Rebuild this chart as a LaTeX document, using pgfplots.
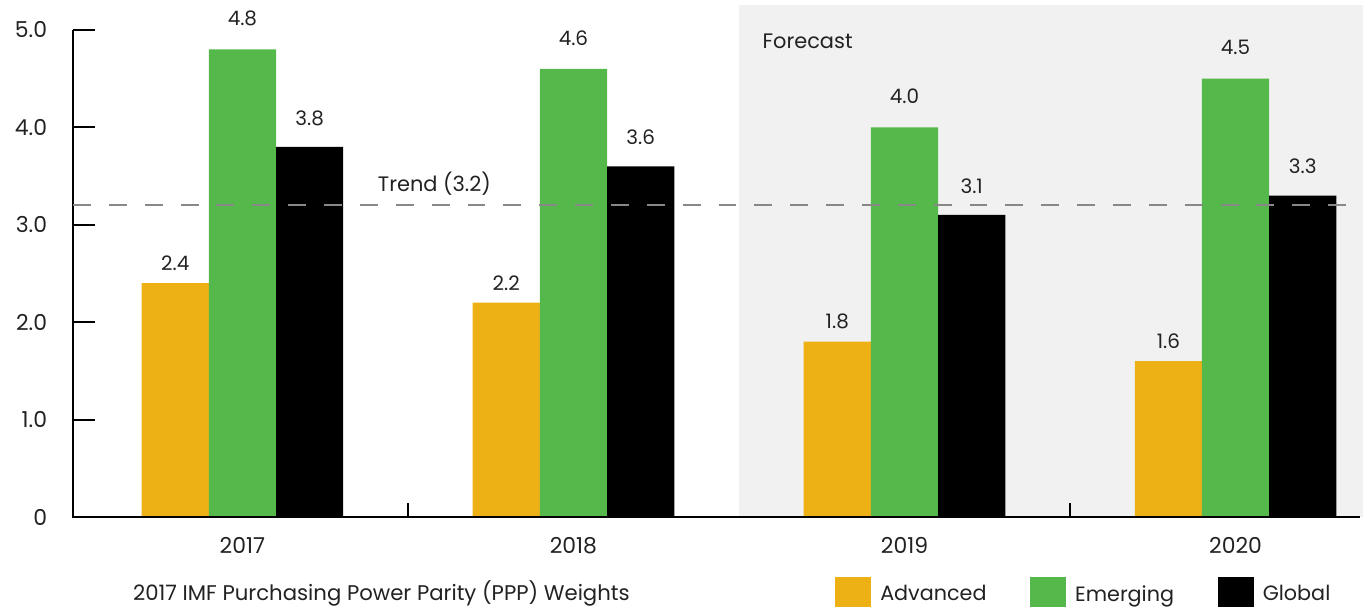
\documentclass[border=0pt]{standalone}
\usepackage{fontspec}
\setmainfont{Poppins}
\usepackage{pgfplots}
\pgfplotsset{compat=1.18}
\definecolor{adv}{HTML}{EEB115}
\definecolor{emg}{HTML}{55B84A}
\definecolor{bgg}{HTML}{F1F1F1}
\definecolor{trend}{HTML}{888888}
\definecolor{txt}{HTML}{222222}
\begin{document}
\pgfkeys{/pgf/number format/.cd,fixed,fixed zerofill,precision=1,assume math mode=true}
\begin{tikzpicture}
\begin{axis}[
  at={(0,0)}, anchor=south west,
  scale only axis, width=647.5pt, height=257pt,
  xmin=-0.5116, xmax=3.385, ymin=0, ymax=5.256,
  axis line style={draw=none},
  xtick={0,1,2,3}, xticklabels={2017,2018,2019,2020},
  x tick style={draw=none},
  ytick={0,1,2,3,4,5}, yticklabels={0,1.0,2.0,3.0,4.0,5.0},
  ytick pos=left, tick align=inside,
  y tick style={black, line width=1pt}, major tick length=11pt,
  ticklabel style={font=\fontsize{11}{13}\selectfont, text=txt},
  yticklabel style={xshift=-9.5pt},
  xticklabel style={yshift=-6.5pt},
  clip=false,
  every node near coord/.append style={font=\fontsize{10}{12}\selectfont, text=txt, anchor=center},
  legend columns=3,
  legend style={at={(0.5907,-0.152)}, anchor=west, draw=none, fill=none,
    inner sep=0pt, font=\fontsize{10.4}{12}\selectfont, text=txt,
    /tikz/every odd column/.append style={column sep=2.5pt},
    /tikz/every even column/.append style={column sep=20pt}},
  legend image code/.code={\fill (0pt,-9pt) rectangle (18pt,9pt);},
]
\fill[bgg] (axis cs:1.5,0) rectangle (axis cs:3.385,5.256);
\addplot[ybar, bar width=0.203, bar shift=0, fill=adv, draw=none, nodes near coords,
  every node near coord/.append style={yshift=10pt}]
  coordinates {(-0.203,2.4)(0.797,2.2)(1.797,1.8)(2.797,1.6)};
\addlegendentry{Advanced}
\addplot[ybar, bar width=0.203, bar shift=0, fill=emg, draw=none, nodes near coords,
  every node near coord/.append style={yshift=15.5pt}]
  coordinates {(0,4.8)(1,4.6)(2,4.0)(3,4.5)};
\addlegendentry{Emerging}
\addplot[ybar, bar width=0.203, bar shift=0, fill=black, draw=none, nodes near coords,
  every node near coord/.append style={yshift=14.5pt}]
  coordinates {(0.203,3.8)(1.203,3.6)(2.203,3.1)(3.203,3.3)};
\addlegendentry{Global}
\draw[black, line width=1pt] (axis cs:-0.5116,5) -- (axis cs:-0.5116,0) -- (axis cs:3.375,0);
\draw[black, line width=1pt] (axis cs:0.5,0) -- (axis cs:0.5,0.143);
\draw[black, line width=1pt] (axis cs:2.5,0) -- (axis cs:2.5,0.143);
\draw[trend, line width=1pt, dash pattern=on 9pt off 9pt] (axis cs:-0.5116,3.2) -- (axis cs:3.385,3.2);
\node[text=txt, font=\fontsize{10.5}{12}\selectfont] at (axis cs:0.58,3.42) {Trend (3.2)};
\node[text=txt, font=\fontsize{10.5}{12}\selectfont, anchor=west] at (axis cs:1.55,4.88) {Forecast};
\node[text=txt, font=\fontsize{10.65}{12}\selectfont, anchor=west, inner sep=0pt] at (rel axis cs:0.0463,-0.150) {2017 IMF Purchasing Power Parity (PPP) Weights};
\end{axis}
\pgfresetboundingbox
\useasboundingbox (-34pt,-45pt) rectangle (647.5pt,259.5pt);
\end{tikzpicture}
\end{document}
